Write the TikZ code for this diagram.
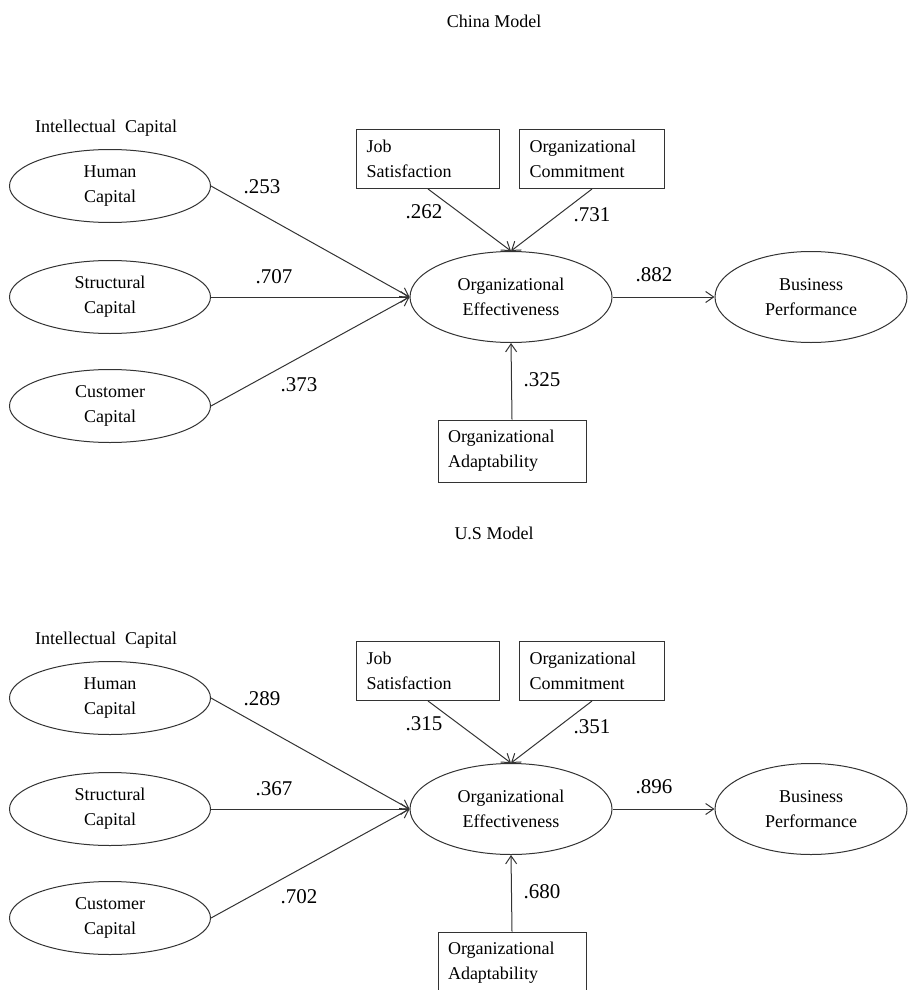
\documentclass[tikz,border=0pt]{standalone}
\usepackage{fontspec}
\setmainfont{Liberation Serif}
\usetikzlibrary{arrows.meta}
\usetikzlibrary{shapes.geometric}

\tikzset{
  latent/.style={draw=black!80, line width=1pt, ellipse, inner sep=0pt,
    minimum width=201pt, minimum height=73pt, align=center,
    font=\fontsize{18}{25}\selectfont},
  observed/.style={draw=black!80, line width=1pt, rectangle, inner xsep=10pt,
    inner ysep=0pt, minimum height=59pt, align=left,
    font=\fontsize{18}{25}\selectfont},
  semarrow/.style={draw=black!80, line width=1pt, -{Straight Barb[length=8pt,width=11pt]}},
  coef/.style={font=\fontsize{21}{24}\selectfont, inner sep=0pt},
  plain/.style={font=\fontsize{18}{22}\selectfont, inner sep=0pt}
}

\begin{document}
\begin{tikzpicture}[x=1pt,y=-1pt]
\useasboundingbox (0,0) rectangle (908,990);

\foreach \k/\ttl/\vhc/\vsc/\vcc/\vjs/\voc/\vbp/\voa in
  {0/China Model/.253/.707/.373/.262/.731/.882/.325,
   1/U.S Model/.289/.367/.702/.315/.351/.896/.680}{
\begin{scope}[yshift=-\k*512pt]
% titles
\node[plain] (title\k) at (494,21) {\ttl};
\node[plain, anchor=west] (ic\k) at (35,128) {Intellectual\ \ Capital};

% intellectual capital
\node[latent] (hc\k) at (110,186) {Human\\Capital};
\node[latent] (sc\k) at (110,297) {Structural\\Capital};
\node[latent] (cc\k) at (110,406) {Customer\\Capital};

% centre and outcome
\node[latent, minimum width=202pt, minimum height=91pt] (oe\k) at (511,297) {Organizational\\Effectiveness};
\node[latent, minimum width=192pt, minimum height=91pt] (bp\k) at (811,297) {Business\\Performance};

% observed
\node[observed, text width=123pt] (js\k) at (428,159) {Job\\Satisfaction};
\node[observed, text width=125pt] (oc\k) at (592,159) {Organizational\\Commitment};
\node[observed, text width=128pt, minimum height=62pt] (oa\k) at (512,451) {Organizational\\Adaptability};

% paths
\draw[semarrow] (hc\k.east) -- (oe\k.west);
\draw[semarrow] (sc\k.east) -- (oe\k.west);
\draw[semarrow] (cc\k.east) -- (oe\k.west);
\draw[semarrow] (js\k.south) -- (oe\k.north);
\draw[semarrow] (oc\k.south) -- (oe\k.north);
\draw[semarrow] (oa\k.north) -- (oe\k.south);
\draw[semarrow] (oe\k.east) -- (bp\k.west);

% coefficients
\node[coef] (lhc\k) at (262,187) {\vhc};
\node[coef] (lsc\k) at (274,277) {\vsc};
\node[coef] (lcc\k) at (299,385) {\vcc};
\node[coef] (ljs\k) at (424,212) {\vjs};
\node[coef] (loc\k) at (592,215) {\voc};
\node[coef] (lbp\k) at (654,275) {\vbp};
\node[coef] (loa\k) at (542,380) {\voa};
\end{scope}
}
\end{tikzpicture}
\end{document}
